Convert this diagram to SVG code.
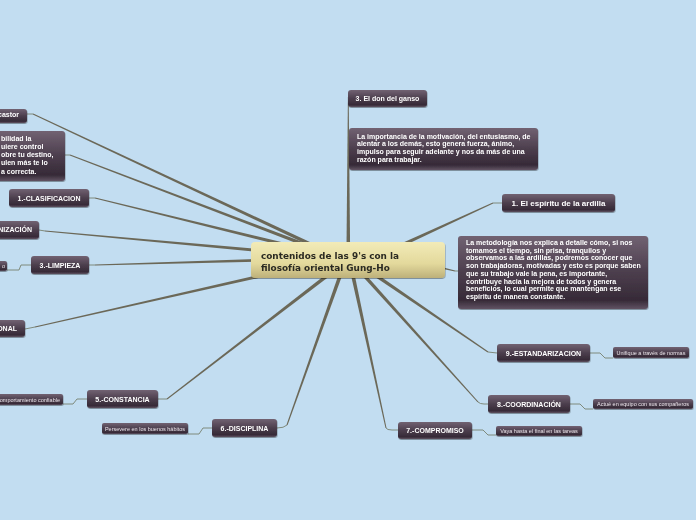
<svg xmlns="http://www.w3.org/2000/svg" width="696" height="520" viewBox="0 0 696 520">
<style>
.dk{fill:url(#gdk)}
.t{font-family:"Liberation Sans",Arial,sans-serif;font-weight:bold;font-size:7px;fill:#ffffff}
.c{text-anchor:middle}
.e{text-anchor:end}
.s{font-family:"Liberation Sans",Arial,sans-serif;font-size:5.5px;fill:#ece6ec}
.br{fill:#6b6858}
.th{fill:none;stroke:#7f8a7c;stroke-width:1}
.ct{font-family:"DejaVu Sans",Verdana,sans-serif;font-weight:bold;font-size:8.9px;fill:#2b2a22}
</style>
<defs>
<linearGradient id="gdk" x1="0" y1="0" x2="0" y2="1">
<stop offset="0" stop-color="#716272"/>
<stop offset="0.5" stop-color="#4c3e4d"/>
<stop offset="0.88" stop-color="#362a37"/>
<stop offset="1" stop-color="#615363"/>
</linearGradient>
<linearGradient id="gy" x1="0" y1="0" x2="0" y2="1">
<stop offset="0" stop-color="#f2ebb8"/>
<stop offset="0.6" stop-color="#e3d99c"/>
<stop offset="1" stop-color="#bdb07a"/>
</linearGradient>
<filter id="sh" x="-10%" y="-20%" width="120%" height="160%">
<feDropShadow dx="0.5" dy="1" stdDeviation="0.6" flood-color="#000" flood-opacity="0.35"/>
</filter>
</defs>
<rect width="696" height="520" fill="#c2ddf1"/>
<g id="connectors">
<polygon class="br" points="32.8,114.5 339.3,259.7 340.7,256.3 33.2,113.5"/>
<path class="th" d="M27,114 H33"/>
<polygon class="br" points="69.8,155.5 339.4,259.8 340.6,256.2 70.2,154.5"/>
<path class="th" d="M65,155 H70"/>
<polygon class="br" points="94.9,198.5 339.6,259.9 340.4,256.1 95.1,197.5"/>
<path class="th" d="M89,198 H95"/>
<polygon class="br" points="45,231.5 339.8,259.9 340.2,256.1 45,230.5"/>
<path class="th" d="M39,230 L45,231"/>
<polygon class="br" points="95,265.5 340,259.9 340,256.1 95,264.5"/>
<path class="th" d="M89,265 H95"/>
<polygon class="br" points="35.1,327.5 340.4,259.9 339.6,256.1 34.9,326.5"/>
<path class="th" d="M25,329 L35,327"/>
<polygon class="br" points="167.3,399.4 346.2,263.5 343.8,260.5 166.7,398.6"/>
<path class="th" d="M158,399 H167"/>
<polygon class="br" points="287.5,425.2 346.8,262.7 343.2,261.3 286.5,424.8"/>
<path class="th" d="M277,428 Q284,428 287,425"/>
<polygon class="br" points="386.5,427.9 351.9,261.6 348.1,262.4 385.5,428.1"/>
<path class="th" d="M386,428 Q387,430 392,430 H398"/>
<polygon class="br" points="478.4,401.7 353.4,260.7 350.6,263.3 477.6,402.3"/>
<path class="th" d="M478,402 Q480,404 484,404 H488"/>
<polygon class="br" points="488.3,351.6 366.1,266.4 363.9,269.6 487.7,352.4"/>
<path class="th" d="M488,352 L497,353"/>
<polygon class="br" points="455.1,270.5 400.4,256.3 399.6,259.7 454.9,271.5"/>
<path class="th" d="M455,271 H459"/>
<polygon class="br" points="492.8,202.5 379.2,253.3 380.8,256.7 493.2,203.5"/>
<path class="th" d="M493,203 H502"/>
<polygon class="br" points="347.9,97 346.4,258 350.2,258 348.7,97"/>
<path class="th" d="M63,404 H73 L77,399 H87"/>
<path class="th" d="M188,434 H199 L203,428 H212"/>
<path class="th" d="M7,270 H19 L21,265 H31"/>
<path class="th" d="M590,353 H600 L605,358 H613"/>
<path class="th" d="M570,404 H580 L585,409 H593"/>
<path class="th" d="M472,430 H483 L488,435 H496"/>
</g>
<g id="n-castor" filter="url(#sh)">
<rect class="dk" x="-5" y="109" width="32" height="14" rx="3"/>
<text class="t e" x="19" y="116.7">castor</text>
</g>
<g id="n-lefttext" filter="url(#sh)">
<rect class="dk" x="-5" y="131" width="70" height="50" rx="3"/>
<text class="t" x="1" y="140.7">bilidad la</text>
<text class="t" x="1" y="148.9">uiere control</text>
<text class="t" x="1" y="157.1">obre tu destino,</text>
<text class="t" x="1" y="165.3">ulen más te lo</text>
<text class="t" x="1" y="173.5">a correcta.</text>
</g>
<g id="n-clasificacion" filter="url(#sh)">
<rect class="dk" x="9" y="189" width="80" height="18" rx="3"/>
<text class="t c" x="49" y="200.6">1.-CLASIFICACION</text>
</g>
<g id="n-organizacion" filter="url(#sh)">
<rect class="dk" x="-5" y="221" width="44" height="18" rx="3"/>
<text class="t e" x="32" y="232.4">NIZACIÓN</text>
</g>
<g id="n-limpieza-sub" filter="url(#sh)">
<rect class="dk" x="-5" y="261" width="12" height="10" rx="2"/>
<text class="s e" x="5" y="267.8">o</text>
</g>
<g id="n-limpieza" filter="url(#sh)">
<rect class="dk" x="31" y="256" width="58" height="18" rx="3"/>
<text class="t c" x="60" y="267.7">3.-LIMPIEZA</text>
</g>
<g id="n-onal" filter="url(#sh)">
<rect class="dk" x="-5" y="320" width="30" height="17" rx="3"/>
<text class="t e" x="17" y="331">ONAL</text>
</g>
<g id="n-constancia-sub" filter="url(#sh)">
<rect class="dk" x="-5" y="394" width="68" height="11" rx="2"/>
<text class="s e" x="60" y="401.5">comportamiento confiable</text>
</g>
<g id="n-constancia" filter="url(#sh)">
<rect class="dk" x="87" y="390" width="71" height="18" rx="3"/>
<text class="t c" x="122.5" y="401.8">5.-CONSTANCIA</text>
</g>
<g id="n-disciplina-sub" filter="url(#sh)">
<rect class="dk" x="102" y="423" width="86" height="11" rx="2"/>
<text class="s c" x="145" y="430.5">Persevere en los buenos hábitos</text>
</g>
<g id="n-disciplina" filter="url(#sh)">
<rect class="dk" x="212" y="419" width="65" height="18" rx="3"/>
<text class="t c" x="244.5" y="430.8">6.-DISCIPLINA</text>
</g>
<g id="n-compromiso" filter="url(#sh)">
<rect class="dk" x="398" y="422" width="74" height="17" rx="3"/>
<text class="t c" x="435" y="433.2">7.-COMPROMISO</text>
</g>
<g id="n-compromiso-sub" filter="url(#sh)">
<rect class="dk" x="496" y="426" width="86" height="10" rx="2"/>
<text class="s c" x="539" y="432.8">Vaya hasta el final en las tareas</text>
</g>
<g id="n-coordinacion" filter="url(#sh)">
<rect class="dk" x="488" y="395" width="82" height="18" rx="3"/>
<text class="t c" x="529" y="406.7">8.-COORDINACIÓN</text>
</g>
<g id="n-coordinacion-sub" filter="url(#sh)">
<rect class="dk" x="593" y="399" width="100" height="10" rx="2"/>
<text class="s c" x="643" y="405.8">Actué en equipo con sus compañeros</text>
</g>
<g id="n-estandarizacion" filter="url(#sh)">
<rect class="dk" x="497" y="344" width="93" height="18" rx="3"/>
<text class="t c" x="543.5" y="355.7">9.-ESTANDARIZACION</text>
</g>
<g id="n-estandarizacion-sub" filter="url(#sh)">
<rect class="dk" x="613" y="347" width="76" height="11" rx="2"/>
<text class="s c" x="651" y="354.5">Unifique a través de normas</text>
</g>
<g id="n-ganso" filter="url(#sh)">
<rect class="dk" x="348" y="90" width="79" height="17" rx="3"/>
<text class="t c" x="387.5" y="101">3. El don del ganso</text>
</g>
<g id="n-ganso-text" filter="url(#sh)">
<rect class="dk" x="349" y="128" width="189" height="42" rx="3"/>
<text class="t" x="357" y="138.5">La importancia de la motivación, del entusiasmo, de</text>
<text class="t" x="357" y="146.2">alentar a los demás, esto genera fuerza, ánimo,</text>
<text class="t" x="357" y="153.9">impulso para seguir adelante y nos da más de una</text>
<text class="t" x="357" y="161.6">razón para trabajar.</text>
</g>
<g id="n-ardilla" filter="url(#sh)">
<rect class="dk" x="502" y="194" width="113" height="18" rx="3"/>
<text class="t c" x="558.5" y="206.3" style="font-size:8px">1. El espíritu de la ardilla</text>
</g>
<g id="n-ardilla-text" filter="url(#sh)">
<rect class="dk" x="458" y="236" width="190" height="73" rx="3"/>
<text class="t" x="466" y="245">La metodología nos explica a detalle cómo, si nos</text>
<text class="t" x="466" y="252.7">tomamos el tiempo, sin prisa, tranquilos y</text>
<text class="t" x="466" y="260.4">observamos a las ardillas, podremos conocer que</text>
<text class="t" x="466" y="268.1">son trabajadoras, motivadas y esto es porque saben</text>
<text class="t" x="466" y="275.8">que su trabajo vale la pena, es importante,</text>
<text class="t" x="466" y="283.5">contribuye hacia la mejora de todos y genera</text>
<text class="t" x="466" y="291.2">beneficios, lo cual permite que mantengan ese</text>
<text class="t" x="466" y="298.9">espíritu de manera constante.</text>
</g>
<g id="n-center" filter="url(#sh)">
<rect x="251" y="242" width="194" height="36" rx="4" fill="url(#gy)"/>
<text class="ct" x="261" y="259">contenidos de las 9's con la</text>
<text class="ct" x="261" y="270.5">filosofía oriental Gung-Ho</text>
</g>
</svg>
